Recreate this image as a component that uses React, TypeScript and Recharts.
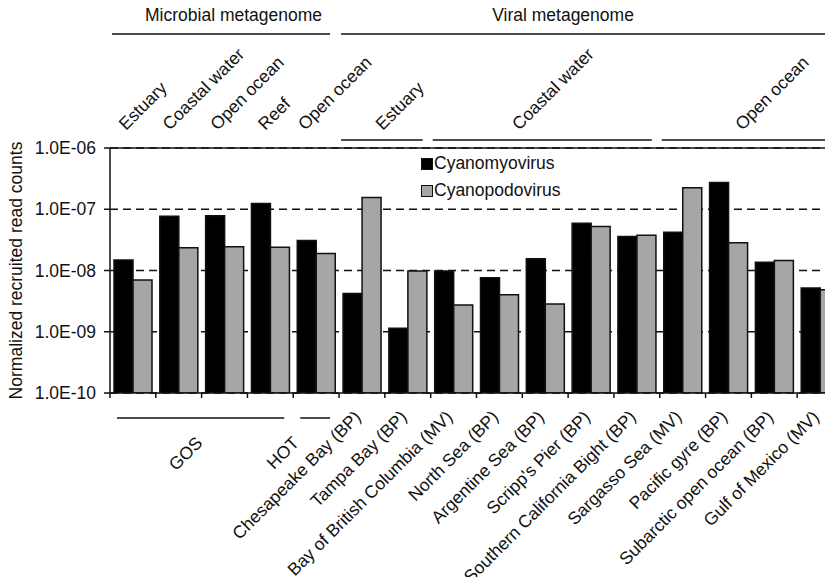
import { BarChart, Bar, XAxis, YAxis, CartesianGrid, Legend } from "recharts";

const FONT = '"Liberation Sans", Arial, sans-serif';
const INK = "#111";

// one entry per bar pair, left to right
const sites = [
  "GOS",
  "GOS",
  "GOS",
  "GOS",
  "HOT",
  "Chesapeake Bay (BP)",
  "Tampa Bay (BP)",
  "Bay of British Columbia (MV)",
  "North Sea (BP)",
  "Argentine Sea (BP)",
  "Scripp's Pier (BP)",
  "Southern California Bight (BP)",
  "Sargasso Sea (MV)",
  "Pacific gyre (BP)",
  "Subarctic open ocean (BP)",
  "Gulf of Mexico (MV)",
];

const cyanomyovirus = [
  1.48e-8, 7.7e-8, 7.8e-8, 1.24e-7, 3.1e-8, 4.2e-9, 1.14e-9, 9.8e-9,
  7.6e-9, 1.55e-8, 5.9e-8, 3.6e-8, 4.2e-8, 2.73e-7, 1.37e-8, 5.2e-9,
];
const cyanopodovirus = [
  7.0e-9, 2.35e-8, 2.44e-8, 2.4e-8, 1.9e-8, 1.55e-7, 9.8e-9, 2.73e-9,
  4.0e-9, 2.83e-9, 5.25e-8, 3.78e-8, 2.24e-7, 2.83e-8, 1.46e-8, 4.84e-9,
];

const yTicks = [1e-10, 1e-9, 1e-8, 1e-7, 1e-6];

// group spans (indexes into sites)
const metagenomeSpans = [
  { label: "Microbial metagenome", from: 0, to: 4 },
  { label: "Viral metagenome", from: 5, to: 15 },
];
const habitatSpans = [
  { label: "Estuary", from: 0, to: 0 },
  { label: "Coastal water", from: 1, to: 1 },
  { label: "Open ocean", from: 2, to: 2 },
  { label: "Reef", from: 3, to: 3 },
  { label: "Open ocean", from: 4, to: 4 },
  { label: "Estuary", from: 5, to: 6 },
  { label: "Coastal water", from: 7, to: 11 },
  { label: "Open ocean", from: 12, to: 15 },
];
const projectSpans = [
  { label: "GOS", from: 0, to: 3 },
  { label: "HOT", from: 4, to: 4 },
];

// label nudges, px
const metagenomeDx = [9, -28];
const habitatDx = [-7, -9, -7, -5, -11, -2, -26, -9];
const projectDx = [2, -16];

const series = [
  { key: "myo", name: "Cyanomyovirus", color: "#000" },
  { key: "podo", name: "Cyanopodovirus", color: "#a6a6a6" },
];

const data = sites.map((site, i) => ({
  id: i,
  site,
  myo: cyanomyovirus[i],
  podo: cyanopodovirus[i],
}));

const fmtSci = (v: number) => {
  const [m, e] = v.toExponential(1).split("e");
  const n = Math.abs(parseInt(e, 10));
  return `${m}E${e.startsWith("-") ? "-" : "+"}${String(n).padStart(2, "0")}`;
};

const textStyle = { fontFamily: FONT, fontSize: 17.5, fill: INK };

const TopTick = (props: any) => {
  const { x, y, payload } = props;
  const i = payload.value as number;
  const half = payload.offset || 22.9;
  const band = half * 2;
  const left = x - half;
  const out: any[] = [];

  metagenomeSpans.forEach((g, k) => {
    if (g.from !== i) return;
    const x1 = left + (g.to - g.from + 1) * band;
    out.push(
      <line key={`ml${k}`} x1={left + 2} x2={x1 - 9} y1={y - 114} y2={y - 114} stroke={INK} strokeWidth={1.5} />,
      <text key={`mt${k}`} x={(left + x1) / 2 + metagenomeDx[k]} y={y - 127} textAnchor="middle" style={textStyle}>
        {g.label}
      </text>
    );
  });

  habitatSpans.forEach((h, k) => {
    if (h.from !== i) return;
    const x1 = left + (h.to - h.from + 1) * band;
    const cx = (left + x1) / 2 + habitatDx[k];
    if (h.to > h.from) {
      out.push(
        <line key={`hl${k}`} x1={left + 2} x2={x1 - 8} y1={y - 8} y2={y - 8} stroke={INK} strokeWidth={1.5} />
      );
    }
    out.push(
      <text key={`ht${k}`} x={cx} y={y - 17} transform={`rotate(-45 ${cx} ${y - 17})`} style={textStyle}>
        {h.label}
      </text>
    );
  });

  return <g>{out}</g>;
};

const BottomTick = (props: any) => {
  const { x, y, payload } = props;
  const i = payload.value as number;
  const half = payload.offset || 22.9;
  const band = half * 2;
  const left = x - half;
  const out: any[] = [
    <line key="tk" x1={left} x2={left} y1={y} y2={y + 5} stroke={INK} strokeWidth={1.5} />,
  ];

  const k = projectSpans.findIndex((p) => p.from === i);
  if (k >= 0) {
    const p = projectSpans[k];
    const x1 = left + (p.to - p.from + 1) * band;
    const ex = (left + x1) / 2 + projectDx[k];
    out.push(
      <line key="pl" x1={left + 7} x2={x1 - 9} y1={y + 25} y2={y + 25} stroke={INK} strokeWidth={1.5} />,
      <text key="pt" x={ex} y={y + 51} textAnchor="end" transform={`rotate(-45 ${ex} ${y + 51})`} style={textStyle}>
        {p.label}
      </text>
    );
  } else if (!projectSpans.some((p) => i >= p.from && i <= p.to)) {
    out.push(
      <text key="st" x={x} y={y + 25} textAnchor="end" transform={`rotate(-45 ${x} ${y + 25})`} style={textStyle}>
        {sites[i]}
      </text>
    );
  }
  return <g>{out}</g>;
};

const LegendBox = () => (
  <div style={{ fontFamily: FONT, fontSize: 17.5, color: INK, lineHeight: "27px" }}>
    {series.map((s) => (
      <div key={s.key} style={{ display: "flex", alignItems: "center" }}>
        <span
          style={{
            display: "inline-block",
            width: 12,
            height: 12,
            background: s.color,
            border: `1px solid ${INK}`,
            boxSizing: "border-box",
            marginRight: 1,
          }}
        />
        {s.name}
      </div>
    ))}
  </div>
);

const YLabel = (props: any) => {
  const vb = props.viewBox || { x: 0, y: 148, height: 245 };
  const cy = vb.y + vb.height / 2;
  const bx = vb.x + 22;
  return (
    <text x={bx} y={cy} textAnchor="middle" transform={`rotate(-90 ${bx} ${cy})`} style={textStyle}>
      Normalized recruited read counts
    </text>
  );
};

export default function App() {
  return (
    <div style={{ margin: -8, width: 833, height: 585, overflow: "hidden", background: "#fff" }}>
      <BarChart
        width={900}
        height={585}
        data={data}
        margin={{ top: 0, right: 57, bottom: 0, left: 0 }}
        barCategoryGap={4}
        barGap={0}
      >
        <CartesianGrid vertical={false} stroke={INK} strokeWidth={1.5} strokeDasharray="8 5" />
        <XAxis
          xAxisId="top"
          orientation="top"
          dataKey="id"
          height={148}
          interval={0}
          tickLine={false}
          tickSize={0}
          tickMargin={0}
          axisLine={{ stroke: INK, strokeWidth: 1.5 }}
          tick={(p: any) => <TopTick {...p} />}
        />
        <XAxis
          dataKey="id"
          height={192}
          interval={0}
          tickLine={false}
          tickSize={0}
          tickMargin={0}
          axisLine={{ stroke: INK, strokeWidth: 1.5 }}
          tick={(p: any) => <BottomTick {...p} />}
        />
        <YAxis
          scale="log"
          domain={[1e-10, 1e-6]}
          allowDataOverflow
          ticks={yTicks}
          interval={0}
          width={110}
          tickFormatter={fmtSci}
          tickSize={6}
          tickMargin={8}
          tick={{ ...textStyle }}
          tickLine={{ stroke: INK, strokeWidth: 1.5 }}
          axisLine={{ stroke: INK, strokeWidth: 1.5 }}
          label={{ content: (p: any) => <YLabel {...p} /> }}
        />
        <Legend
          layout="vertical"
          align="center"
          verticalAlign="middle"
          content={() => <LegendBox />}
          wrapperStyle={{ top: 150, left: 421, width: "auto", height: "auto" }}
        />
        {series.map((s) => (
          <Bar
            key={s.key}
            dataKey={s.key}
            name={s.name}
            fill={s.color}
            stroke={INK}
            strokeWidth={1.5}
            isAnimationActive={false}
          />
        ))}
      </BarChart>
    </div>
  );
}
